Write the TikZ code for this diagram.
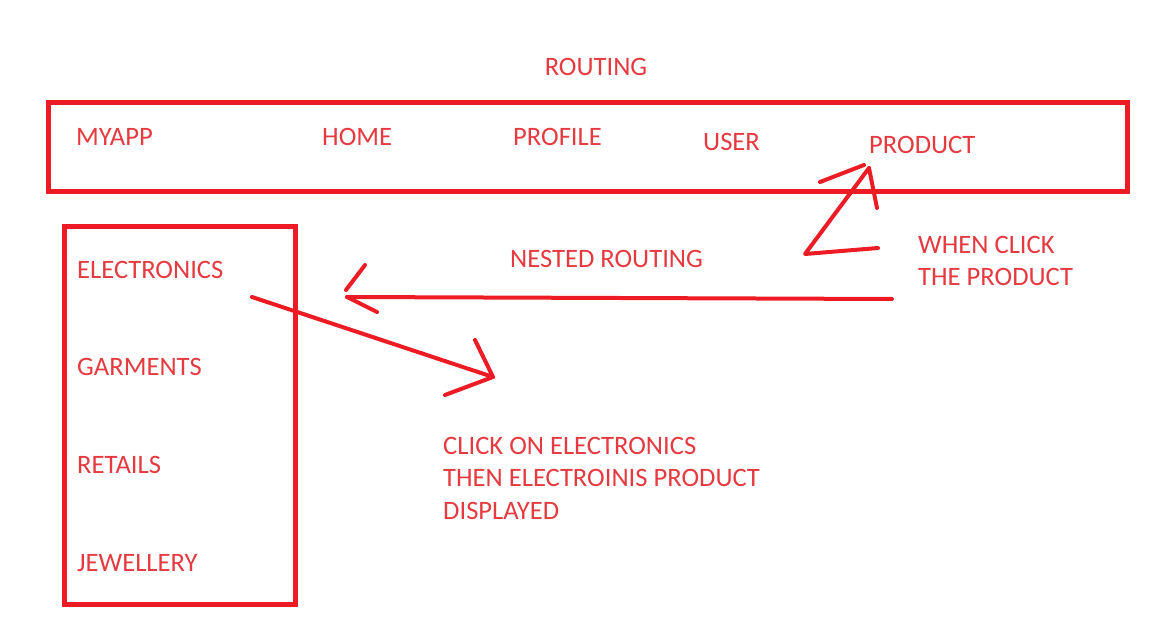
\documentclass[tikz,border=0pt]{standalone}
\usepackage{fontspec}
\setmainfont{Carlito}
\usetikzlibrary{positioning}
\definecolor{paintred}{HTML}{ED1C24}
\definecolor{textred}{HTML}{E53A40}
\tikzset{>=stealth}
\tikzset{lbl/.style={anchor=west,inner sep=0pt,text=textred,
    font=\fontsize{26.6}{32.5}\selectfont,text height=17pt,text depth=0pt},
  note/.style={anchor=north west,inner sep=0pt,text=textred,align=left,
    font=\fontsize{26.6}{32.5}\selectfont},
  frame/.style={draw=paintred,line width=5pt},
  stroke/.style={draw=paintred,line width=4pt,line cap=round,line join=round}}

\begin{document}
\begin{tikzpicture}[x=1pt,y=-1pt]
  \useasboundingbox (0,0) rectangle (1152,639);
  % boxes
  \draw[frame] (48,103) rectangle (1127,192);
  \draw[frame] (64,227) rectangle (295,604);
  % texts
  \node[lbl,anchor=center] (routing) at (596,67) {ROUTING};
  \node[lbl] (myapp) at (76,137) {MYAPP};
  \node[lbl] (home) at (322,137) {HOME};
  \node[lbl] (profile) at (513,137) {PROFILE};
  \node[lbl] (user) at (703,142) {USER};
  \node[lbl] (product) at (869,145) {PRODUCT};
  \node[lbl] (electronics) at (77,270) {ELECTRONICS};
  \node[lbl] (garments) at (77,367) {GARMENTS};
  \node[lbl] (retails) at (77,465) {RETAILS};
  \node[lbl] (jewellery) at (77,563) {JEWELLERY};
  \node[lbl] (nested) at (510,259) {NESTED ROUTING};
  \node[note] (when) at (918,236) {WHEN CLICK\\THE PRODUCT};
  \node[note] (click) at (443,437) {CLICK ON ELECTRONICS\\THEN ELECTROINIS PRODUCT\\DISPLAYED};
  % hand drawn arrows
  \coordinate (zstart) at (878,248);
  \coordinate (zbend) at (805,254);
  \coordinate (ztip) at (869,168);
  \draw[stroke] (zstart) -- (zbend) -- (ztip);
  \draw[stroke] (820,182) -- (864,165);
  \draw[stroke] (ztip) -- (877,208);
  \coordinate (hstart) at (892,299);
  \coordinate (htip) at (347,297);
  \draw[stroke] (hstart) -- (htip);
  \draw[stroke] (365,265) -- (346,290);
  \draw[stroke] (htip) -- (377,312);
  \coordinate (dstart) at (252,297);
  \coordinate (dtip) at (493,377);
  \draw[stroke] (dstart) -- (dtip);
  \draw[stroke] (475,340) -- (dtip) -- (445,395);
\end{tikzpicture}
\end{document}
